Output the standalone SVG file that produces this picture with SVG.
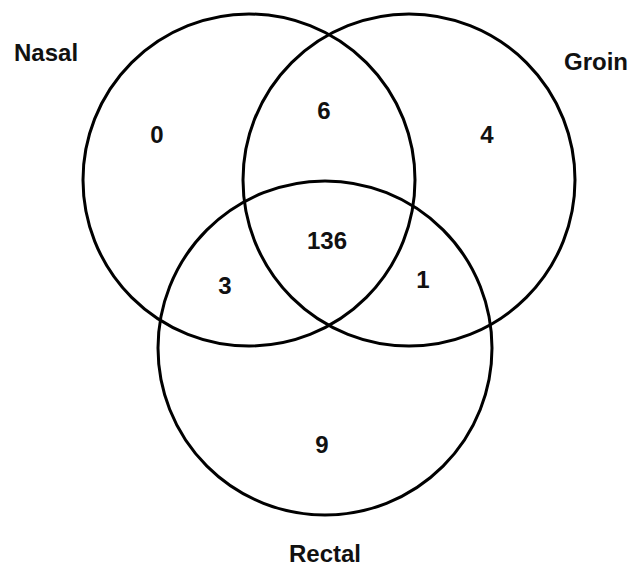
<svg xmlns="http://www.w3.org/2000/svg" width="641" height="566" viewBox="0 0 641 566">
<style>
.set{fill:none;stroke:#000;stroke-width:3}
.lbl{font-family:"Liberation Sans",Arial,sans-serif;font-weight:bold;font-size:24px;fill:#111}
.num{font-family:"Liberation Sans",Arial,sans-serif;font-weight:bold;font-size:24px;fill:#111;text-anchor:middle}
</style>
<rect width="641" height="566" fill="#fff"/>
<g id="nasal">
<circle class="set" cx="249" cy="180" r="166"/>
<text class="lbl" x="14" y="61">Nasal</text>
</g>
<g id="groin">
<circle class="set" cx="409" cy="180" r="166"/>
<text class="lbl" x="564" y="70">Groin</text>
</g>
<g id="rectal">
<circle class="set" cx="325" cy="348" r="167"/>
<text class="lbl" x="325" y="562" text-anchor="middle">Rectal</text>
</g>
<g id="counts">
<text class="num" x="157" y="143">0</text>
<text class="num" x="324" y="119">6</text>
<text class="num" x="487" y="143">4</text>
<text class="num" x="327" y="249">136</text>
<text class="num" x="225" y="294">3</text>
<text class="num" x="423" y="288">1</text>
<text class="num" x="322" y="453">9</text>
</g>
<g id="connectors"></g>
</svg>
